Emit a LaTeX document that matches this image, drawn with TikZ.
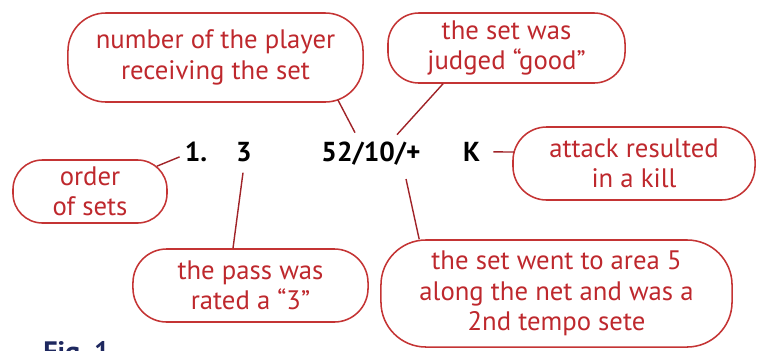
\documentclass[tikz,border=0pt]{standalone}
\usepackage{fontspec}
\setmainfont{PT Sans}
\usetikzlibrary{
  calc,
  positioning
}
\definecolor{callred}{RGB}{196,52,52}
\definecolor{leadred}{RGB}{160,35,40}
\definecolor{textred}{RGB}{190,40,45}
\definecolor{fignavy}{RGB}{30,40,95}

\begin{document}
\begin{tikzpicture}[x=0.025cm,y=-0.025cm,
  callout/.style={draw=callred, line width=1.1pt, rounded corners=22pt,
    text=textred, align=center, inner sep=0pt,
    font=\fontsize{19}{21.5}\selectfont},
  code/.style={anchor=base, inner sep=0pt, font=\fontsize{19.5}{22}\selectfont\bfseries},
  lead/.style={draw=leadred, line width=1pt}]
  \clip (0,0) rectangle (760,350);

  % the scouting line
  \node[code] (one)   at (196,161.5) {1.};
  \node[code] (three) at (244,161.5) {3};
  \node[code] (set)   at (371,161.5) {52/10/+};
  \node[code] (kay)   at (471.5,161.5) {K};

  % callouts
  \node[callout, rounded corners=27pt, minimum width=7.375cm, minimum height=2.225cm] (plyr) at (215.5,57.5)
    {number of the player\\receiving the set};
  \node[callout, minimum width=5.925cm, minimum height=1.75cm] (good) at (506.5,48)
    {the set was\\judged ``good''};
  \node[callout, rounded corners=21pt, minimum width=3.85cm, minimum height=1.575cm] (order) at (90,191.5)
    {order\\of sets};
  \node[callout, rounded corners=24pt, minimum width=6.05cm, minimum height=1.825cm] (kill) at (634,163.5)
    {attack resulted\\in a kill};
  \node[callout, rounded corners=24pt, minimum width=5.875cm, minimum height=1.825cm] (pass) at (250.5,285.5)
    {the pass was\\rated a ``3''};
  \node[callout, rounded corners=32pt, minimum width=8.775cm, minimum height=2.675cm] (area) at (556.5,293.5)
    {the set went to area 5\\along the net and was a\\2nd tempo sete};

  \draw[lead] ($(plyr.south east)+(-26,-3)$) -- ($(set.north)+(-16,-9)$);
  \draw[lead] ($(good.south)+(-63.5,0)$) -- ($(set.north)+(26,-7)$);
  \draw[lead] ($(order.north east)+(-11,7)$) -- ($(one.west)+(-5,5)$);
  \draw[lead] ($(three.south)+(-1,10.5)$) -- ($(pass.north)+(-17.5,0)$);
  \draw[lead] ($(set.base)+(35,17.5)$) -- ($(area.north west)+(39,0)$);
  \draw[lead] ($(kay.east)+(13,0)$) -- ($(kill.west)+(2,-11.5)$);

  \node[anchor=north west, inner sep=0pt, text=fignavy,
    font=\fontsize{20}{24}\selectfont\bfseries] (fig) at (43,341.5) {Fig.~1};
\end{tikzpicture}
\end{document}
